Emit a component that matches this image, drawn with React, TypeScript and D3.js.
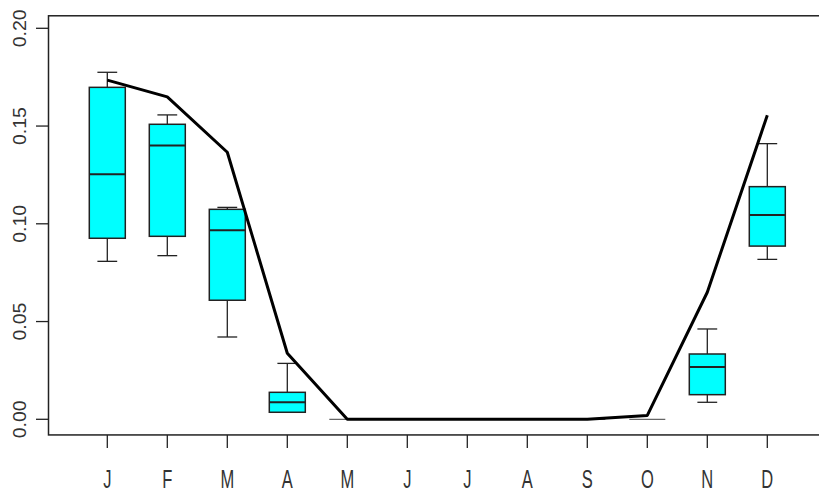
import React from "react";
import * as d3 from "d3";

// Monthly distribution (box stats) with the monthly reference line on top
const months = ["J", "F", "M", "A", "M", "J", "J", "A", "S", "O", "N", "D"];
const whiskerLow = [0.0808, 0.0837, 0.0421, 0.0036, 0, 0, 0, 0, 0, 0, 0.0087, 0.0818];
const q1 = [0.0926, 0.0936, 0.0609, 0.0036, 0, 0, 0, 0, 0, 0, 0.0126, 0.0886];
const medians = [0.1253, 0.14, 0.0967, 0.0087, 0, 0, 0, 0, 0, 0, 0.0268, 0.1045];
const q3 = [0.1698, 0.1509, 0.1074, 0.0138, 0, 0, 0, 0, 0, 0, 0.0334, 0.119];
const whiskerHigh = [0.1775, 0.1557, 0.1084, 0.0286, 0, 0, 0, 0, 0, 0, 0.0462, 0.141];
const lineValues = [0.1735, 0.1649, 0.1366, 0.0338, 0, 0, 0, 0, 0, 0.002, 0.065, 0.1555];
const yTicks = [0, 0.05, 0.1, 0.15, 0.2];
const yTickLabels = ["0.00", "0.05", "0.10", "0.15", "0.20"];

const W = 819;
const H = 494;

export default function App() {
  const x = d3.scaleLinear().domain([0.02, 12.98]).range([48.5, 826.1]);
  const y = d3.scaleLinear().domain([0, 0.2]).range([419.3, 28.3]);

  const frameLeft = x(0.02);
  const frameRight = x(12.98);
  const frameTop = y(0.2064);
  const frameBottom = y(-0.008);

  const halfBox = (x(1.3) - x(1)) ;
  const halfStaple = halfBox * 0.55;

  const line = d3
    .line<number>()
    .x((_, i) => x(i + 1))
    .y((d) => y(d));

  const stroke = "#222";
  const fontFamily = "'Liberation Sans', Arial, sans-serif";

  return (
    <svg
      width={W}
      height={H}
      style={{ position: "absolute", left: 0, top: 0, background: "#fff" }}
    >
      {/* boxes */}
      {months.map((m, i) => {
        const cx = x(i + 1);
        const flat = q3[i] - q1[i] === 0 && whiskerHigh[i] === whiskerLow[i];
        if (flat) {
          return (
            <line
              key={i}
              x1={cx - halfBox}
              x2={cx + halfBox}
              y1={y(medians[i])}
              y2={y(medians[i])}
              stroke="#666"
              strokeWidth={1.2}
            />
          );
        }
        return (
          <g key={i}>
            {whiskerHigh[i] > q3[i] && (
              <g stroke={stroke} strokeWidth={1.3}>
                <line x1={cx} x2={cx} y1={y(q3[i])} y2={y(whiskerHigh[i])} />
                <line
                  x1={cx - halfStaple}
                  x2={cx + halfStaple}
                  y1={y(whiskerHigh[i])}
                  y2={y(whiskerHigh[i])}
                />
              </g>
            )}
            {whiskerLow[i] < q1[i] && (
              <g stroke={stroke} strokeWidth={1.3}>
                <line x1={cx} x2={cx} y1={y(q1[i])} y2={y(whiskerLow[i])} />
                <line
                  x1={cx - halfStaple}
                  x2={cx + halfStaple}
                  y1={y(whiskerLow[i])}
                  y2={y(whiskerLow[i])}
                />
              </g>
            )}
            <rect
              x={cx - halfBox}
              width={halfBox * 2}
              y={y(q3[i])}
              height={y(q1[i]) - y(q3[i])}
              fill="#00ffff"
              stroke={stroke}
              strokeWidth={1.5}
            />
            <line
              x1={cx - halfBox}
              x2={cx + halfBox}
              y1={y(medians[i])}
              y2={y(medians[i])}
              stroke={stroke}
              strokeWidth={2}
            />
          </g>
        );
      })}

      {/* monthly line */}
      <path
        d={line(lineValues) || ""}
        fill="none"
        stroke="#000"
        strokeWidth={3}
        strokeLinejoin="round"
      />

      {/* frame */}
      <rect
        x={frameLeft}
        y={frameTop}
        width={frameRight - frameLeft}
        height={frameBottom - frameTop}
        fill="none"
        stroke={stroke}
        strokeWidth={1.5}
      />

      {/* y axis */}
      {yTicks.map((t, i) => (
        <g key={t}>
          <line
            x1={frameLeft - 12.5}
            x2={frameLeft}
            y1={y(t)}
            y2={y(t)}
            stroke={stroke}
            strokeWidth={1.3}
          />
          <text
            transform={`translate(26,${y(t)}) rotate(-90) scale(1.12,1)`}
            textAnchor="middle"
            fontFamily={fontFamily}
            fontSize={17.5}
            fill="#333"
          >
            {yTickLabels[i]}
          </text>
        </g>
      ))}

      {/* x axis */}
      {months.map((m, i) => (
        <g key={i}>
          <line
            x1={x(i + 1)}
            x2={x(i + 1)}
            y1={frameBottom}
            y2={frameBottom + 13}
            stroke={stroke}
            strokeWidth={1.3}
          />
          <text
            transform={`translate(${x(i + 1)},488) scale(0.66,1)`}
            textAnchor="middle"
            fontFamily={fontFamily}
            fontSize={25}
            fill="#333"
          >
            {m}
          </text>
        </g>
      ))}
    </svg>
  );
}
